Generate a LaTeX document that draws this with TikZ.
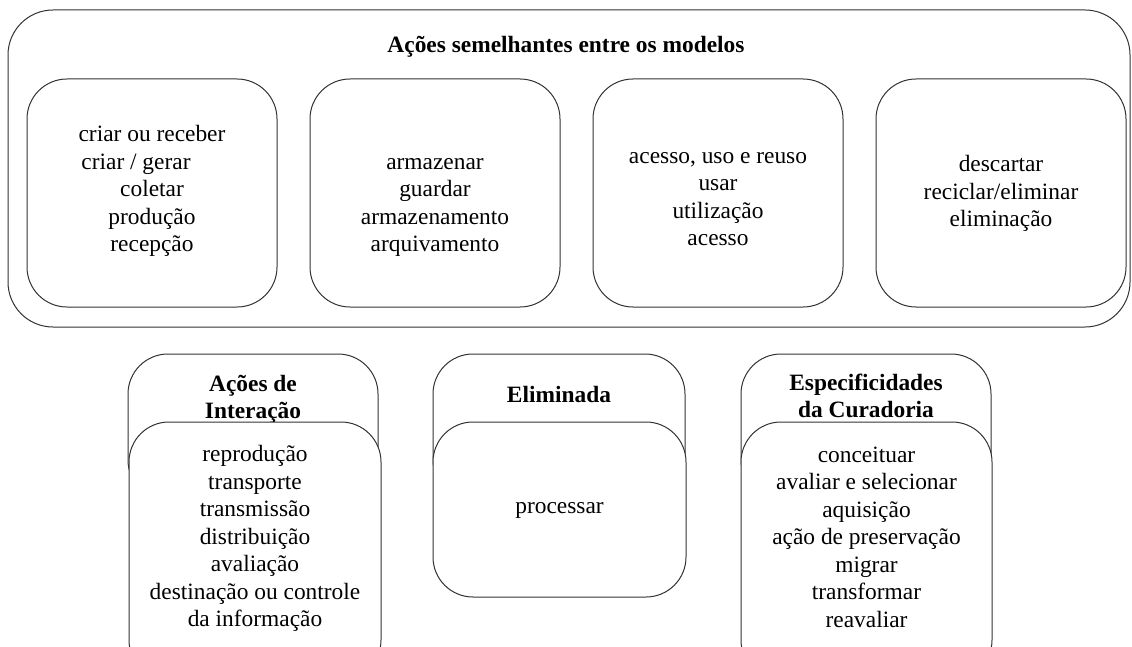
\documentclass[tikz,border=0pt]{standalone}
\usepackage{fontspec}
\setmainfont{Liberation Serif}
\usepackage{tikz}
\usetikzlibrary{positioning}
\newcommand{\texto}{\fontsize{23.4}{27.5}\selectfont}

\begin{document}
\begin{tikzpicture}[x=1pt,y=-1pt,
  caixa/.style={draw=black!80,line width=1pt,rounded corners=40pt,fill=white},
  lista/.style={align=center,font=\texto,inner sep=0pt},
  titulo/.style={align=center,font=\texto\bfseries,inner sep=0pt}]
  \clip (0,0) rectangle (1132,647);
  % grupo de cima
  \node[caixa,rounded corners=45pt,minimum width=1122pt,minimum height=317pt] (modelos) at (569,168.5) {};
  \node[titulo] (modelostit) at (566,47) {Ações semelhantes entre os modelos};
  \node[caixa,minimum width=250pt,minimum height=228pt] (criar) at (152,193) {};
  \node[caixa,minimum width=250pt,minimum height=228pt] (armazenar) at (435,193) {};
  \node[caixa,minimum width=250pt,minimum height=228pt] (acesso) at (718,193) {};
  \node[caixa,minimum width=250pt,minimum height=228pt] (descartar) at (1001,193) {};
  \node[lista] (criartxt) at (152,191) {criar ou receber\\criar / gerar\rule{32pt}{0pt}\\coletar\\produção\\recepção};
  \node[lista] (armazenartxt) at (435,207.5) {armazenar\\guardar\\armazenamento\\arquivamento};
  \node[lista] (acessotxt) at (718,199) {acesso, uso e reuso\\usar\\utilização\\acesso};
  \node[lista] (descartartxt) at (1001,193.5) {descartar\\reciclar/eliminar\\eliminação};
  % grupos de baixo
  \node[caixa,minimum width=250pt,minimum height=146pt] (interacao) at (253,427) {};
  \node[titulo] (interacaotit) at (253,399.5) {Ações de\\Interação};
  \node[caixa,minimum width=252pt,minimum height=258pt] (interacaolista) at (255,551) {};
  \node[lista] (interacaotxt) at (255,538.5) {reprodução\\transporte\\transmissão\\distribuição\\avaliação\\destinação ou controle\\da informação};
  \node[caixa,minimum width=252pt,minimum height=146pt] (eliminada) at (559,427) {};
  \node[titulo] (eliminadatit) at (559,394) {Eliminada};
  \node[caixa,minimum width=253pt,minimum height=175pt] (eliminadalista) at (559.5,509.5) {};
  \node[lista] (eliminadatxt) at (559.5,510) {processar};
  \node[caixa,minimum width=250pt,minimum height=146pt] (curadoria) at (866,427) {};
  \node[titulo] (curadoriatit) at (866,396) {Especificidades\\da Curadoria};
  \node[caixa,minimum width=251pt,minimum height=258pt] (curadorialista) at (866.5,551) {};
  \node[lista] (curadoriatxt) at (866.5,537) {conceituar\\avaliar e selecionar\\aquisição\\ação de preservação\\migrar\\transformar\\reavaliar};
\end{tikzpicture}
\end{document}
